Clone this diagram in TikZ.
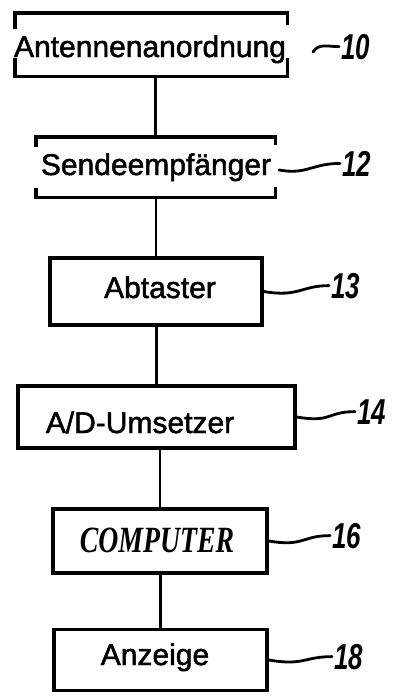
\documentclass[tikz,border=0pt]{standalone}
\usepackage{fontspec}
\setmainfont{Liberation Sans}
\newfontfamily\compfont{Liberation Serif}
\newfontfamily\numfont{Liberation Sans}
\newfontfamily\txtfont{Liberation Sans}[FakeBold=1.6]
\begin{document}
\begin{tikzpicture}[x=1pt,y=-1pt,
  box/.style={draw, line width=3.6pt, inner sep=0pt},
  ghost/.style={inner sep=0pt},
  bracket/.style={line width=3.4pt},
  conn/.style={line width=2.4pt},
  sq/.style={line width=2.8pt, line cap=round},
  txt/.style={inner sep=0pt, anchor=base, font=\txtfont\fontsize{30}{34}\selectfont},
  num/.style={inner sep=0pt, anchor=base west, font=\numfont\bfseries\itshape\fontsize{36}{40}\selectfont}]
\useasboundingbox (0,0) rectangle (397,696);

% boxes
\node[ghost, minimum width=272pt, minimum height=63pt] (b10) at (151,44.5) {};
\node[ghost, minimum width=239pt, minimum height=60pt] (b12) at (155.5,167) {};
\node[box, minimum width=212pt, minimum height=67pt] (b13) at (156,291.5) {};
\node[box, minimum width=277pt, minimum height=62pt] (b14) at (156.5,417) {};
\node[box, minimum width=214pt, minimum height=64pt] (b16) at (160,541) {};
\node[box, minimum width=213pt, minimum height=61pt] (b18) at (160.5,660) {};

% bracket-style outlines of the two upper boxes
\draw[bracket] ([yshift=-16pt]b10.north west) -- (b10.north west) -- (b10.north east) -- ([yshift=-12pt]b10.north east);
\draw[bracket] ([yshift=18pt]b10.south west) -- (b10.south west) -- (b10.south east) -- ([yshift=18pt]b10.south east);
\draw[bracket] ([yshift=-10pt]b12.north west) -- (b12.north west) -- (b12.north east) -- ([yshift=-8pt]b12.north east);
\draw[bracket] ([yshift=9pt]b12.south west) -- (b12.south west) -- (b12.south east) -- ([yshift=10pt]b12.south east);

% texts
\node[txt] (t10) at (150,57) {Antennenanordnung};
\node[txt] (t12) at (156,175) {Sendeempfänger};
\node[txt] (t13) at (160,298) {Abtaster};
\node[txt] (t14) at (140,433) {A/D-Umsetzer};
\node[inner sep=0pt, anchor=base] (t16) at (157,552) {\scalebox{0.75}[1]{\compfont\bfseries\itshape\fontsize{37}{40}\selectfont COMPUTER}};
\node[txt] (t18) at (155,665) {Anzeige};

% connectors
\draw[conn] (b12.north) -- (b12.north |- b10.south);
\draw[conn] (b13.north) -- (b13.north |- b12.south);
\draw[conn] (b14.north) -- (b14.north |- b13.south);
\draw[conn] (b16.north) -- (b16.north |- b14.south);
\draw[conn] (b18.north) -- (b18.north |- b16.south);

% reference numerals
\node[num] (l10) at (341,59) {\scalebox{0.72}[1]{10}};
\node[num] (l12) at (342,176) {\scalebox{0.72}[1]{12}};
\node[num] (l13) at (331,298) {\scalebox{0.72}[1]{13}};
\node[num] (l14) at (357,424) {\scalebox{0.72}[1]{14}};
\node[num] (l16) at (332,548) {\scalebox{0.72}[1]{16}};
\node[num] (l18) at (334,669) {\scalebox{0.72}[1]{18}};

\coordinate (c10) at (313,52);
\coordinate (c12) at (279,170);

\draw[sq] (c10) .. controls +(6,-9) and +(-12,0) .. ([xshift=-2pt]l10.west);
\draw[sq] (c12) .. controls +(28,5) and +(-28,0) .. ([xshift=-2pt]l12.west);
\draw[sq] (b13.east) .. controls +(35,6) and +(-28,0) .. ([xshift=-2pt]l13.west);
\draw[sq] (b14.east) .. controls +(35,6) and +(-28,0) .. ([xshift=-2pt]l14.west);
\draw[sq] (b16.east) .. controls +(35,6) and +(-28,0) .. ([xshift=-2pt]l16.west);
\draw[sq] (b18.east) .. controls +(35,6) and +(-28,0) .. ([xshift=-2pt]l18.west);
\end{tikzpicture}
\end{document}
